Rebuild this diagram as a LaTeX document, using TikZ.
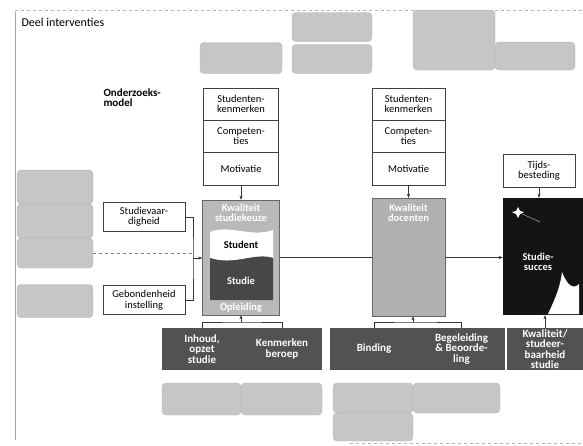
\documentclass[tikz,border=0pt]{standalone}
\usepackage{fontspec}
\setmainfont{Carlito}
\usetikzlibrary{arrows.meta}

\begin{document}
\begin{tikzpicture}[x=1pt,y=-1pt,
    grijs/.style={draw=gray!60,fill=gray!45,rounded corners=4pt,inner sep=0pt},
    wit/.style={draw=black!75,fill=white,align=center,inner sep=1pt,font=\fontsize{10.5}{10.5}\selectfont},
    donker/.style={fill=black!68,text=white,align=center,inner sep=1pt,font=\fontsize{11}{10.5}\selectfont\bfseries},
    label/.style={text=white,align=center,font=\fontsize{10.5}{10.5}\selectfont\bfseries},
    pijl/.style={-{Stealth[length=4pt]},black!80},
    lijn/.style={black!80}]
        \useasboundingbox (0,0) rectangle (583,445);
        % kader
        \draw[gray!70] (15,12) -- (15,440);
        \draw[gray!60,dashed] (15,10) -- (583,10);
        \draw[gray!60,dashed] (350,443) -- (583,443);
        \node[anchor=west,font=\fontsize{12}{12}\selectfont] (titel) at (18,22) {Deel interventies};
        \node[anchor=north west,align=left,font=\fontsize{11}{10.5}\selectfont\bfseries] (model) at (100,85) {Onderzoeks-\\model};
        % grijze blokken boven
        \node[grijs,minimum width=82pt,minimum height=31pt] (g1) at (241,58) {};
        \node[grijs,minimum width=80pt,minimum height=29pt] (g2) at (332,27) {};
        \node[grijs,minimum width=80pt,minimum height=29pt] (g3) at (332,59) {};
        \node[grijs,minimum width=82pt,minimum height=60pt] (g4) at (454,40) {};
        \node[grijs,minimum width=80pt,minimum height=28pt] (g5) at (535,56) {};
        % grijze blokken links
        \node[grijs,minimum width=76pt,minimum height=34pt] (l1) at (55,187) {};
        \node[grijs,minimum width=76pt,minimum height=34pt] (l2) at (55,221) {};
        \node[grijs,minimum width=76pt,minimum height=30pt] (l3) at (55,253) {};
        \node[grijs,minimum width=76pt,minimum height=33pt] (l4) at (55,301) {};
        % kolom studenten
        \node[wit,minimum width=75pt,minimum height=32pt] (kenm1) at (241,104) {Studenten-\\kenmerken};
        \node[wit,minimum width=75pt,minimum height=32pt] (comp1) at (241,136) {Competen-\\ties};
        \node[wit,minimum width=75pt,minimum height=33pt] (mot1) at (241,168.5) {Motivatie};
        % kolom docenten
        \node[wit,minimum width=73pt,minimum height=32pt] (kenm2) at (408.5,104) {Studenten-\\kenmerken};
        \node[wit,minimum width=73pt,minimum height=32pt] (comp2) at (408.5,136) {Competen-\\ties};
        \node[wit,minimum width=73pt,minimum height=33pt] (mot2) at (408.5,168.5) {Motivatie};
        \node[wit,minimum width=72pt,minimum height=33pt] (tijd) at (539,171) {Tijds-\\besteding};
        % links
        \node[wit,minimum width=82pt,minimum height=29pt] (vaar) at (144,217) {Studievaar-\\digheid};
        \node[wit,minimum width=82pt,minimum height=29pt] (geb) at (144,300) {Gebondenheid\\instelling};
        % kwaliteit studiekeuze
        \node[draw=black!60,fill=gray!55,minimum width=77pt,minimum height=115pt] (kws) at (241,257.5) {};
        \fill[white] (210,232) .. controls (230,224) and (250,238) .. (273,230) -- (273,258) .. controls (255,252) and (235,266) .. (210,258) -- cycle;
        \fill[black!72] (210,258) .. controls (235,266) and (255,252) .. (273,258) -- (273,300) -- (210,300) -- cycle;
        \node[label] (kwslab) at (241,213) {Kwaliteit\\studiekeuze};
        \node[font=\fontsize{10.5}{10.5}\selectfont\bfseries] (student) at (241,245) {Student};
        \node[label] (studie) at (241,281) {Studie};
        \node[label] (opl) at (241,308) {Opleiding};
        % kwaliteit docenten
        \node[draw=black!60,fill=gray!62,minimum width=73pt,minimum height=118pt] (kwd) at (408.5,257) {};
        \node[label] (kwdlab) at (408.5,213) {Kwaliteit\\docenten};
        % studiesucces
        \node[fill=black!92,minimum width=80pt,minimum height=117pt] (succes) at (543,256.5) {};
        \fill[white] (518,207) -- (520,211) -- (524,212) -- (520,214) -- (518,218) -- (516,214) -- (512,212) -- (516,211) -- cycle;
        \draw[white!80!black,thin] (520,213) -- (540,222);
        \fill[white] (562,272) .. controls (560,290) and (552,305) .. (548,314) -- (579,314) -- (579,284) .. controls (573,290) and (567,285) .. (562,272) -- cycle;
        \node[label] (succeslab) at (538,262) {Studie-\\succes};
        % onderste rij
        \node[donker,minimum width=80pt,minimum height=42pt] (inhoud) at (202,349) {Inhoud,\\opzet\\studie};
        \node[donker,minimum width=80pt,minimum height=42pt] (beroep) at (282,349) {Kenmerken\\beroep};
        \node[donker,minimum width=88pt,minimum height=42pt] (binding) at (374,349) {Binding};
        \node[donker,minimum width=87pt,minimum height=42pt] (begel) at (461.5,349) {Begeleiding\\\& Beoorde-\\ling};
        \node[donker,minimum width=76pt,minimum height=42pt] (studeer) at (545,349) {Kwaliteit/\\studeer-\\baarheid\\studie};
        \node[grijs,minimum width=79pt,minimum height=32pt] (b1) at (201.5,399) {};
        \node[grijs,minimum width=81pt,minimum height=32pt] (b2) at (281.5,399) {};
        \node[grijs,minimum width=80pt,minimum height=30pt] (b3) at (373,398) {};
        \node[grijs,minimum width=87pt,minimum height=30pt] (b4) at (456.5,398) {};
        \node[grijs,minimum width=80pt,minimum height=28pt] (b5) at (373,427) {};
        % verbindingen
        \coordinate (knik) at (193,258);
        \draw[lijn] (vaar.east) -| (knik) |- (geb.east);
        \draw[pijl] (knik) -- (knik -| kws.west);
        \draw[lijn,dashed,gray] (l3.east) -- (l3.east -| knik);
        \draw[pijl] (mot1) -- (kws);
        \draw[pijl] (mot2) -- (kwd);
        \draw[pijl] (tijd.south) -- (tijd.south |- succes.north);
        \draw[lijn] (kws.east) -- (kws.east -| kwd.west);
        \draw[pijl] (kwd.east |- kws.east) -- (succes.west |- kws.east);
        \coordinate (onder1) at (241,322);
        \draw[lijn] (inhoud.north) |- (onder1) -| (beroep.north);
        \draw[pijl] (onder1) -- (onder1 |- kws.south);
        \coordinate (onder2) at (413,322);
        \draw[lijn] (binding.north) |- (onder2) -| (begel.north);
        \draw[pijl] (onder2) -- (onder2 |- kwd.south);
        \draw[pijl] (studeer.north) -- (studeer.north |- succes.south);
\end{tikzpicture}
\end{document}
